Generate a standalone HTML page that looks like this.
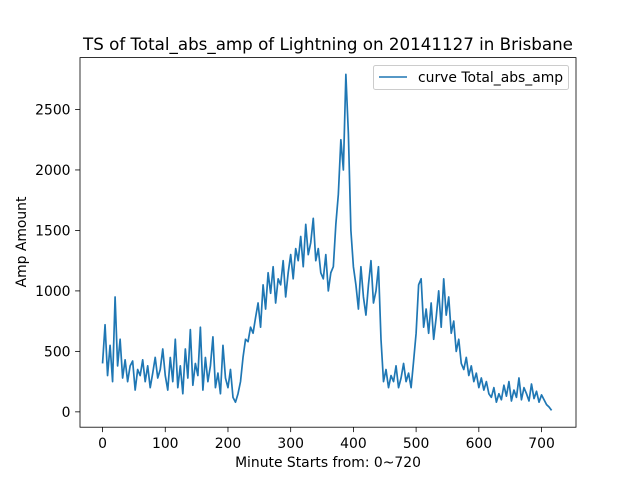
<!DOCTYPE html>
<html><head><meta charset="utf-8"><style>
body{margin:0;background:#fff;}
svg text{font-family:"DejaVu Sans","Liberation Sans",sans-serif;fill:#000;}
</style></head><body>
<svg id="chart" width="640" height="480" xmlns="http://www.w3.org/2000/svg">
<rect width="640" height="480" fill="#fff"/>
<text x="328" y="50" font-size="16.7" text-anchor="middle">TS of Total_abs_amp of Lightning on 20141127 in Brisbane</text>
<g id="ticks"></g>
<path id="line" fill="none" stroke="#1f77b4" stroke-width="1.7" stroke-linejoin="round"/>
<rect x="80" y="57.6" width="496" height="369.6" fill="none" stroke="#000" stroke-width="0.8"/>
<text x="328" y="467" font-size="13.9" text-anchor="middle">Minute Starts from: 0~720</text>
<text transform="translate(26,242) rotate(-90)" font-size="13.9" text-anchor="middle">Amp Amount</text>
<g>
<rect x="373.5" y="65.5" width="195" height="24" rx="2" fill="#fff" stroke="#ccc" stroke-width="1"/>
<line x1="379" y1="77" x2="407" y2="77" stroke="#1f77b4" stroke-width="1.5"/>
<text x="418" y="82" font-size="13.9">curve Total_abs_amp</text>
</g>
</svg>
<script>
const stepMinutes = 4;
const values = [400,720,300,550,250,950,380,600,280,430,250,380,420,180,350,300,430,250,380,200,320,450,280,350,520,
300,180,450,250,600,200,380,150,520,280,680,220,400,300,700,180,450,250,380,620,200,320,150,550,280,200,350,120,
80,150,250,450,600,580,700,650,780,
900,700,1050,850,1150,980,1200,900,1100,1050,1250,950,1150,
1300,1100,1350,1250,1450,1200,1550,1300,1400,1600,1250,1350,1150,1100,1300,1000,1150,
1200,1550,1800,2250,2000,2790,2300,
1500,1200,1050,850,1200,950,800,1050,1250,900,1000,1200,
600,250,350,200,300,250,380,200,280,400,250,320,200,420,
650,1050,1100,700,850,650,900,600,780,1000,700,1100,800,950,650,
750,500,600,400,350,450,300,380,250,320,200,280,180,250,150,
120,200,80,150,100,220,130,250,90,180,120,280,100,200,150,90,230,110,170,80,140,100,60,40,12];
const xTicks = [0,100,200,300,400,500,600,700];
const yTicks = [0,500,1000,1500,2000,2500];

const minutes = values.map((v,i)=>i*stepMinutes);
const xMaxData = 719;
const xpad = xMaxData*0.05;
const x0=-xpad, x1=xMaxData+xpad;
const yMin=Math.min(...values), yMax=Math.max(...values), ypad=(yMax-yMin)*0.05;
const y0=yMin-ypad, y1=yMax+ypad;
const L=80,R=576,T=57.6,B=427.2;
function xs(v){return L+(v-x0)/(x1-x0)*(R-L);}
function ys(v){return B-(v-y0)/(y1-y0)*(B-T);}
const line=document.getElementById('line');
line.setAttribute('d', values.map((v,i)=>(i?'L':'M')+xs(minutes[i]).toFixed(2)+','+ys(v).toFixed(2)).join(''));
const g=document.getElementById('ticks');
const NS='http://www.w3.org/2000/svg';
xTicks.forEach(t=>{
  const px=xs(t);
  const l=document.createElementNS(NS,'line');
  l.setAttribute('x1',px);l.setAttribute('x2',px);l.setAttribute('y1',B);l.setAttribute('y2',B+4.9);
  l.setAttribute('stroke','#000');l.setAttribute('stroke-width','0.8');
  
  
  g.appendChild(l);
  const tx=document.createElementNS(NS,'text');
  tx.setAttribute('x',px);tx.setAttribute('y',B+21);tx.setAttribute('font-size','13.9');tx.setAttribute('text-anchor','middle');
  tx.textContent=t;
  
  
  g.appendChild(tx);
});
yTicks.forEach(t=>{
  const py=ys(t);
  const l=document.createElementNS(NS,'line');
  l.setAttribute('x1',L-4.9);l.setAttribute('x2',L);l.setAttribute('y1',py);l.setAttribute('y2',py);
  l.setAttribute('stroke','#000');l.setAttribute('stroke-width','0.8');
  
  
  g.appendChild(l);
  const tx=document.createElementNS(NS,'text');
  tx.setAttribute('x',L-9.5);tx.setAttribute('y',py+5);tx.setAttribute('font-size','13.9');tx.setAttribute('text-anchor','end');
  tx.textContent=t;
  
  
  g.appendChild(tx);
});
</script>
</body></html>
